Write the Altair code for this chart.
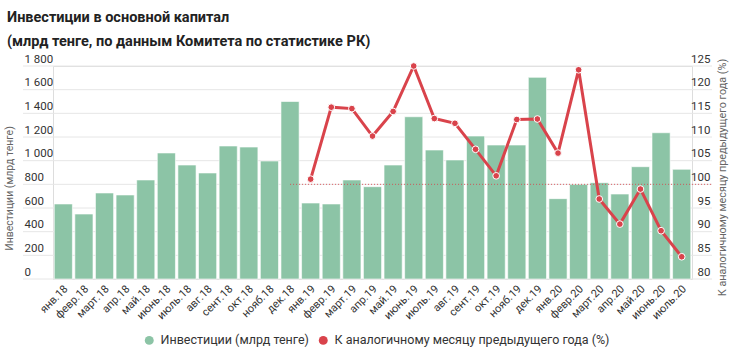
import altair as alt
import pandas as pd

months = ["янв.18", "февр.18", "март.18", "апр.18", "май.18", "июнь.18", "июль.18", "авг.18",
          "сент.18", "окт.18", "нояб.18", "дек.18",
          "янв.19", "февр.19", "март.19", "апр.19", "май.19", "июнь.19", "июль.19", "авг.19",
          "сент.19", "окт.19", "нояб.19", "дек.19",
          "янв.20", "февр.20", "март.20", "апр.20", "май.20", "июнь.20", "июль.20"]
invest = [634, 549, 727, 710, 837, 1065, 963, 896, 1124, 1115, 997, 1500,
          642, 634, 837, 780, 963, 1371, 1090, 1006, 1208, 1132, 1132, 1704,
          679, 800, 814, 718, 949, 1236, 927]
pct_months = months[12:]
pct = [101.1, 116.3, 116.0, 110.2, 115.4, 125.0, 113.9, 112.9, 107.4, 101.8,
       113.7, 113.8, 106.6, 124.2, 96.9, 91.6, 99.0, 90.2, 84.7]
left_ticks = [0, 200, 400, 600, 800, 1000, 1200, 1400, 1600, 1800]
right_ticks = [80, 85, 90, 95, 100, 105, 110, 115, 120, 125]
ref_start = ["дек.18"]
ref_value = [100]

S1 = "Инвестиции (млрд тенге)"
S2 = "К аналогичному месяцу предыдущего года (%)"
TITLE = ["Инвестиции в основной капитал", "(млрд тенге, по данным Комитета по статистике РК)"]

W, H = 639, 213
GREEN = "#8cc4a6"
RED = "#d9434b"
FONT = "Roboto"

bars_df = pd.DataFrame({"month": months, "value": invest, "series": S1})
line_df = pd.DataFrame({"month": pct_months, "pct": pct, "series": S2})
grid_df = pd.DataFrame({"tick": left_ticks})
ref_df = pd.DataFrame({"month": ref_start, "pct": ref_value})

x_scale = alt.Scale(domain=months, paddingInner=0.12, paddingOuter=0.06)
x_enc = alt.X("month:N", sort=months, scale=x_scale,
              axis=alt.Axis(title=None, labelAngle=315, labelAlign="right", labelBaseline="middle",
                            labelPadding=8, labelOffset=3, labelFontSize=11, labelColor="#333",
                            domain=False, ticks=False, grid=False))
yl_scale = alt.Scale(domain=[0, 1800], nice=False)
yr_scale = alt.Scale(domain=[80, 125], nice=False)
color_scale = alt.Scale(domain=[S1, S2], range=[GREEN, RED])
legend = alt.Legend(title=None, orient="none", legendX=90, legendY=268, direction="horizontal",
                    symbolType="circle", symbolSize=80, labelFontSize=12.5, labelColor="#333",
                    labelFont=FONT, columnPadding=8, labelOffset=5, symbolStrokeWidth=0,
                    labelLimit=500)

left_axis = alt.Axis(title=S1, values=left_ticks,
                     labelExpr="replace(format(datum.value, ','), ',', ' ')",
                     labelAlign="left", labelPadding=29, labelBaseline="bottom", labelOffset=-2,
                     labelFontSize=11.5, labelColor="#333", domain=False, ticks=False, grid=False,
                     titleX=-44, titleY=122, titleAngle=270, titleBaseline="middle",
                     titleFontSize=10.5, titleFontWeight="normal", titleColor="#666")
right_axis = alt.Axis(orient="right", title=S2, values=right_ticks,
                      labelAlign="right", labelPadding=18, labelBaseline="bottom", labelOffset=-2,
                      labelFontSize=11.5, labelColor="#333", domain=False, ticks=False, grid=False,
                      titleX=30, titleY=111, titleAngle=270, titleBaseline="middle",
                      titleFontSize=10.8, titleFontWeight="normal", titleColor="#666")

grid = alt.Chart(grid_df).mark_rule(color="#e6e6e6", strokeWidth=1).encode(
    y=alt.Y("tick:Q", scale=yl_scale, axis=left_axis),
    x=alt.value(-30), x2=alt.value(W + 20))

bars = alt.Chart(bars_df).mark_bar(stroke="white", strokeWidth=0.6).encode(
    x=x_enc,
    y=alt.Y("value:Q", scale=yl_scale, axis=left_axis),
    color=alt.Color("series:N", scale=color_scale, legend=legend),
)

left = alt.layer(grid, bars)

ref = alt.Chart(ref_df).mark_rule(color=RED, strokeWidth=1, strokeDash=[1, 2], opacity=0.85).encode(
    x=alt.X("month:N", sort=months, scale=x_scale, bandPosition=0.5),
    x2=alt.value(W + 20),
    y=alt.Y("pct:Q", scale=yr_scale, axis=right_axis))

line = alt.Chart(line_df).mark_line(strokeWidth=3).encode(
    x=alt.X("month:N", sort=months, scale=x_scale),
    y=alt.Y("pct:Q", scale=yr_scale, axis=right_axis),
    color=alt.Color("series:N", scale=color_scale, legend=legend),
)
points = alt.Chart(line_df).mark_circle(size=45, color=RED, opacity=1, stroke="white", strokeWidth=1).encode(
    x=alt.X("month:N", sort=months, scale=x_scale),
    y=alt.Y("pct:Q", scale=yr_scale, axis=right_axis))

right = alt.layer(ref, line, points)

chart = alt.layer(left, right).resolve_scale(y="independent").properties(
    width=W, height=H,
    autosize=alt.AutoSizeParams(type="none"),
    padding={"left": 53, "top": 66, "right": 38, "bottom": 74},
    title=alt.TitleParams(text=TITLE, anchor="start", frame="group", fontSize=14.5, fontWeight="bold",
                          font=FONT, color="#222", lineHeight=24, dx=-46, dy=2, offset=6),
).configure_view(stroke=None).configure(font=FONT)

chart.save("out.html", embed_options={"renderer": "svg", "actions": False})
